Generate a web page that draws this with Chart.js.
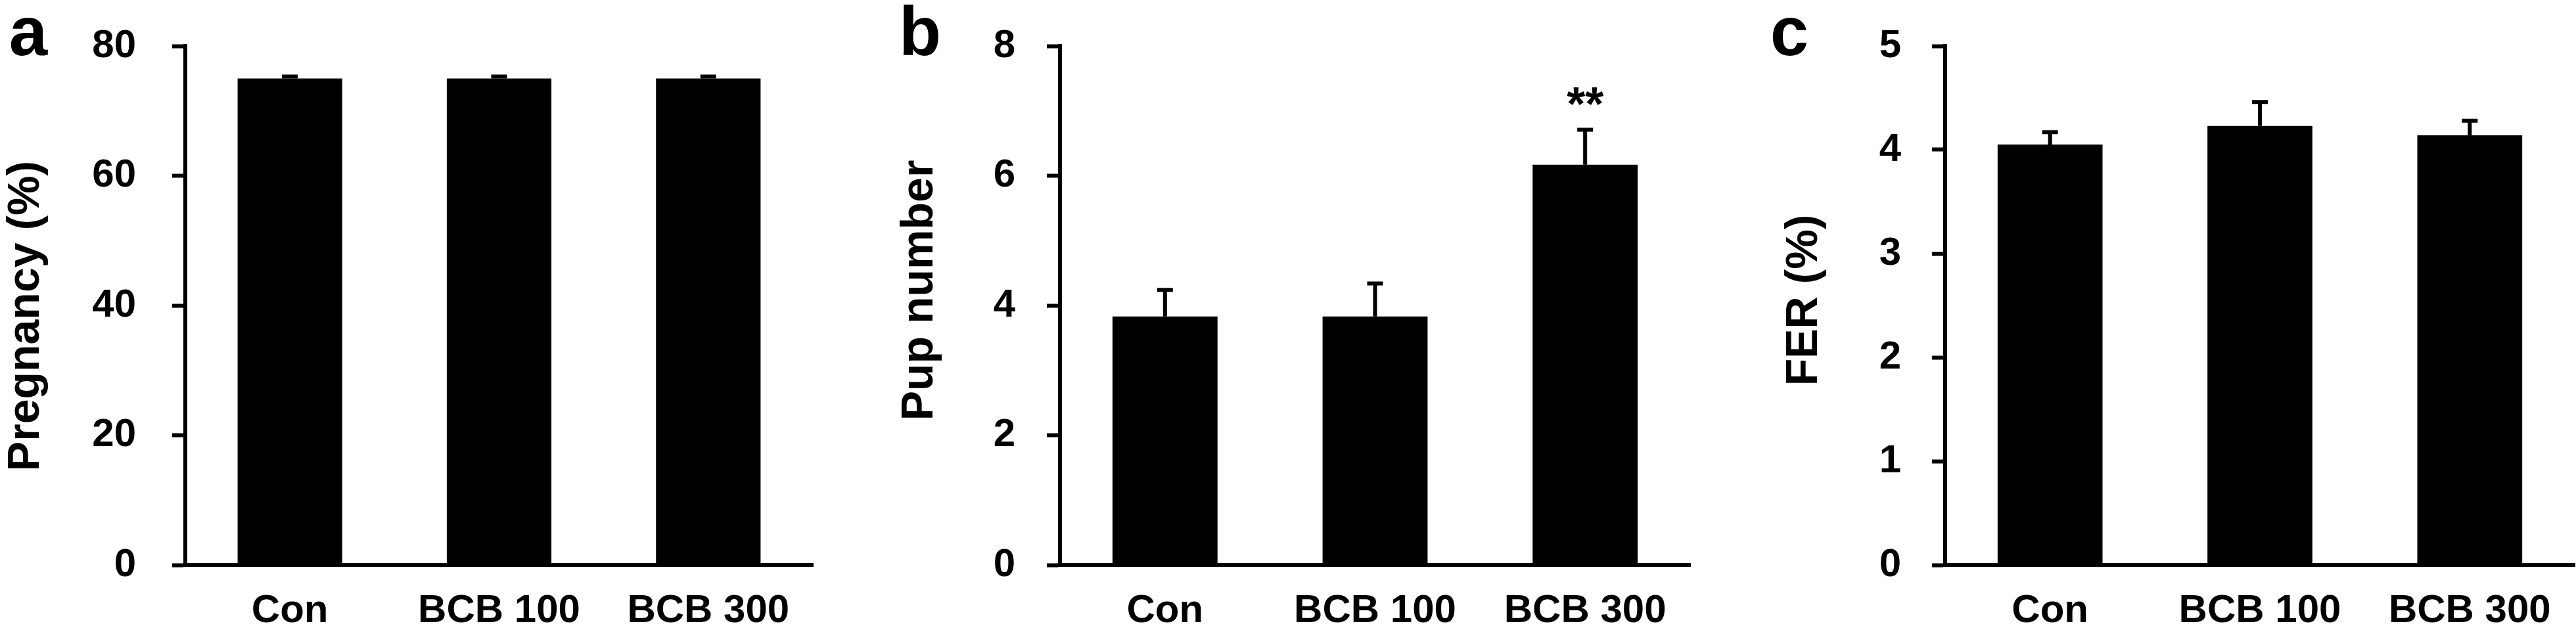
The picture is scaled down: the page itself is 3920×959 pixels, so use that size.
<!DOCTYPE html>
<html>
<head>
<meta charset="utf-8">
<script src="https://cdn.jsdelivr.net/npm/chart.js@4"></script>
<style>
  body { margin: 0; background: #fff; }
  #wrap { position: relative; width: 3920px; height: 959px; background: #fff; }
  canvas { position: absolute; top: 0; }
</style>
</head>
<body>
<div id="wrap">
  <canvas id="chartA" width="1300" height="959" style="left:0px"></canvas>
  <canvas id="chartB" width="1320" height="959" style="left:1300px"></canvas>
  <canvas id="chartC" width="1300" height="959" style="left:2620px"></canvas>
</div>
<script>
// groups on the x axis
const groups = ["Con", "BCB 100", "BCB 300"];

// a: pregnancy rate (%)
const pregnancy = [75, 75, 75];
const pregnancyErr = [0.3, 0.3, 0.3];

// b: pup number
const pups = [3.83, 3.83, 6.17];
const pupsErr = [0.41, 0.51, 0.54];
const pupsMarks = ["", "", "**"];

// c: FER (%)
const fer = [4.05, 4.23, 4.14];
const ferErr = [0.12, 0.23, 0.14];

const FONT = "'Liberation Sans', Arial, sans-serif";

// error bars, panel letter, rotated y title and significance marks
const extras = {
  id: "extras",
  afterDatasetsDraw(chart, args, opts) {
    const ctx = chart.ctx;
    const y = chart.scales.y;
    const meta = chart.getDatasetMeta(0);
    ctx.save();
    ctx.strokeStyle = "#000";
    ctx.fillStyle = "#000";
    ctx.lineWidth = 6;
    meta.data.forEach((bar, i) => {
      const top = y.getPixelForValue(opts.values[i] + opts.errors[i]);
      ctx.beginPath();
      ctx.moveTo(bar.x, bar.y);
      ctx.lineTo(bar.x, top);
      ctx.moveTo(bar.x - 12, top);
      ctx.lineTo(bar.x + 12, top);
      ctx.stroke();
      if (opts.marks && opts.marks[i]) {
        ctx.font = "bold 72px " + FONT;
        ctx.textAlign = "center";
        ctx.textBaseline = "alphabetic";
        ctx.fillText(opts.marks[i], bar.x, top - 14);
      }
    });
    // panel letter
    ctx.font = "bold 105px " + FONT;
    ctx.textAlign = "center";
    ctx.textBaseline = "alphabetic";
    ctx.fillText(opts.letter, opts.letterX, 84);
    // y title
    ctx.translate(opts.titleX, opts.titleY);
    ctx.rotate(-Math.PI / 2);
    ctx.font = "bold 68px " + FONT;
    ctx.textBaseline = "middle";
    ctx.fillText(opts.title, 0, 0);
    ctx.restore();
  }
};

function makeChart(id, values, errors, marks, cfg) {
  return new Chart(document.getElementById(id), {
    type: "bar",
    data: {
      labels: groups,
      datasets: [{
        data: values,
        backgroundColor: "#000",
        borderWidth: 0,
        categoryPercentage: 1,
        barPercentage: 0.5
      }]
    },
    options: {
      responsive: false,
      animation: false,
      layout: { padding: { left: 0, right: cfg.right, top: 70, bottom: 0 } },
      plugins: {
        legend: { display: false },
        tooltip: { enabled: false },
        extras: {
          values: values, errors: errors, marks: marks,
          letter: cfg.letter, letterX: cfg.letterX,
          title: cfg.title, titleX: cfg.titleX, titleY: cfg.titleY
        }
      },
      scales: {
        x: {
          grid: { display: false },
          border: { display: true, color: "#000", width: 6 },
          ticks: { color: "#000", font: { family: FONT, size: 60, weight: "bold" }, padding: 26 },
          afterFit: s => { s.height = 99; }
        },
        y: {
          min: 0,
          max: cfg.max,
          grid: { drawOnChartArea: false, drawTicks: true, tickLength: 20, tickWidth: 6, tickColor: "#000", color: "#000" },
          border: { display: true, color: "#000", width: 6 },
          ticks: { stepSize: cfg.step, color: "#000", font: { family: FONT, size: 60, weight: "bold" }, padding: cfg.tickPad },
          // fixed axis width; tick padding should not push the plot down
          afterFit: s => { s.width = cfg.axisX; s.paddingTop = 0; s.paddingBottom = 0; }
        }
      }
    },
    plugins: [extras]
  });
}

makeChart("chartA", pregnancy, pregnancyErr, null, {
  max: 80, step: 20, axisX: 282, right: 63, tickPad: 55,
  letter: "a", letterX: 43, title: "Pregnancy (%)", titleX: 40, titleY: 481
});
makeChart("chartB", pups, pupsErr, pupsMarks, {
  max: 8, step: 2, axisX: 313, right: 48, tickPad: 48,
  letter: "b", letterX: 100, title: "Pup number", titleX: 100, titleY: 442
});
makeChart("chartC", fer, ferErr, null, {
  max: 5, step: 1, axisX: 340, right: 2, tickPad: 47,
  letter: "c", letterX: 103, title: "FER (%)", titleX: 126, titleY: 457
});
</script>
</body>
</html>
